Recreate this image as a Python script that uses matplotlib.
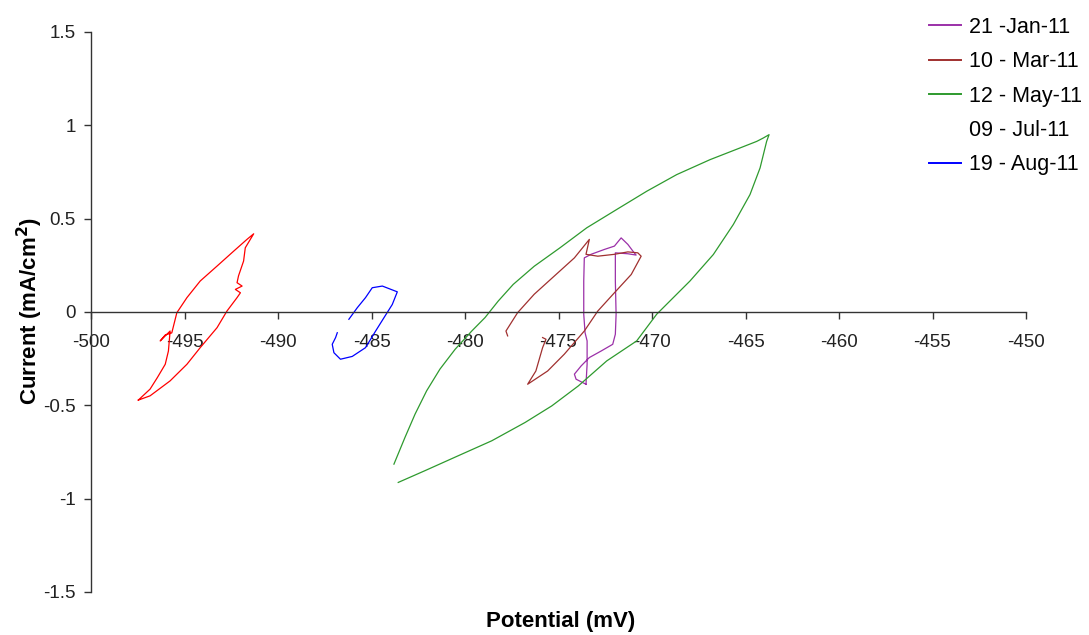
import matplotlib
matplotlib.use("Agg")
import matplotlib.pyplot as plt

plt.rcParams['font.family'] = ['Liberation Sans', 'DejaVu Sans']
plt.rcParams['axes.unicode_minus'] = False

# ---- data (potential mV, current mA/cm2) ----
jan_x = [-473.53, -473.47, -473.47, -473.58, -473.65, -473.65, -473.62, -473.26, -472.55, -472.01,
         -471.65, -471.29, -471.02, -470.85, -471.29, -471.96, -471.96, -471.92, -471.96, -472.10,
         -472.72, -473.35, -473.79, -474.15, -474.06, -473.53]
jan_y = [-0.387, -0.280, -0.155, -0.111, -0.012, 0.166, 0.290, 0.309, 0.335, 0.353,
         0.397, 0.362, 0.326, 0.305, 0.312, 0.317, 0.166, -0.012, -0.119, -0.173,
         -0.209, -0.244, -0.289, -0.333, -0.360, -0.387]

mar_x = [-477.72, -477.81, -477.19, -476.30, -475.22, -474.15, -473.35, -473.53, -472.90, -472.01,
         -471.29, -470.76, -470.58, -471.11, -472.01, -472.90, -473.62, -474.69, -475.58, -476.65,
         -476.21, -475.85, -475.67, -475.85]
mar_y = [-0.128, -0.102, -0.004, 0.095, 0.193, 0.290, 0.389, 0.309, 0.299, 0.309,
         0.322, 0.317, 0.299, 0.201, 0.103, 0.005, -0.102, -0.226, -0.316, -0.387,
         -0.316, -0.191, -0.146, -0.137]

may_x = [-483.80, -483.21, -482.67, -482.05, -481.34, -480.53, -479.64, -478.93, -478.22, -477.42,
         -476.30, -474.92, -473.49, -471.89, -470.28, -468.68, -466.90, -465.29, -464.40, -464.05,
         -463.74, -463.87, -464.22, -464.76, -465.65, -466.72, -467.97, -469.04, -469.75, -470.82,
         -472.42, -473.94, -475.36, -476.79, -478.57, -480.36, -482.14, -483.57]
may_y = [-0.815, -0.672, -0.547, -0.422, -0.306, -0.200, -0.102, -0.030, 0.059, 0.148,
         0.245, 0.344, 0.451, 0.549, 0.647, 0.736, 0.816, 0.879, 0.914, 0.932,
         0.950, 0.914, 0.772, 0.629, 0.469, 0.308, 0.166, 0.059, -0.012, -0.155,
         -0.262, -0.396, -0.503, -0.592, -0.690, -0.770, -0.850, -0.913]

jul_x = [-497.47, -496.84, -496.45, -496.03, -495.86, -495.77, -496.30, -496.03, -495.68, -495.41,
         -494.87, -494.16, -493.26, -492.37, -491.66, -491.30, -491.75, -491.84, -492.11, -492.19,
         -491.92, -492.28, -492.01, -492.19, -492.73, -493.26, -494.16, -494.87, -495.77, -496.84,
         -497.47]
jul_y = [-0.472, -0.413, -0.351, -0.280, -0.209, -0.102, -0.155, -0.123, -0.112, -0.004,
         0.077, 0.166, 0.246, 0.326, 0.389, 0.419, 0.344, 0.273, 0.194, 0.157,
         0.139, 0.121, 0.103, 0.077, 0.005, -0.084, -0.191, -0.280, -0.369, -0.449,
         -0.472]

aug_x = [-486.21, -485.76, -485.32, -484.96, -484.42, -483.62, -483.89, -484.33, -484.78, -485.32,
         -486.03, -486.66, -487.01, -487.10, -486.92, -486.83]
aug_y = [-0.039, 0.023, 0.077, 0.130, 0.139, 0.108, 0.040, -0.030, -0.102, -0.191,
         -0.238, -0.253, -0.218, -0.173, -0.137, -0.111]

labels = ["21 -Jan-11", "10 - Mar-11", "12 - May-11", "09 - Jul-11", "19 - Aug-11"]
colors = ["#9B30A8", "#A0302F", "#2E9A2E", "#FF0000", "#0000FF"]

x_ticks = [-500, -495, -490, -485, -480, -475, -470, -465, -460, -455, -450]
y_ticks = [-1.5, -1, -0.5, 0, 0.5, 1, 1.5]
y_tick_labels = ["-1.5", "-1", "-0.5", "0", "0.5", "1", "1.5"]

# ---- figure ----
fig = plt.figure(figsize=(10.89, 6.35), dpi=100)
ax = fig.add_axes([91 / 1089, 1 - 592 / 635, (1026 - 91) / 1089, (592 - 32) / 635])

series = [(jan_x, jan_y), (mar_x, mar_y), (may_x, may_y), (jul_x, jul_y), (aug_x, aug_y)]
lines = []
for (xs, ys), lab, col in zip(series, labels, colors):
    ln, = ax.plot(xs, ys, color=col, lw=0.9, label=lab)
    lines.append(ln)

ax.set_xlim(-500, -450)
ax.set_ylim(-1.5, 1.5)
ax.set_xticks(x_ticks)
ax.set_xticklabels([str(t) for t in x_ticks])
ax.set_yticks(y_ticks)
ax.set_yticklabels(y_tick_labels)

ax.spines['top'].set_visible(False)
ax.spines['right'].set_visible(False)
ax.spines['bottom'].set_position(('data', 0))
for sp in ['left', 'bottom']:
    ax.spines[sp].set_color('#333333')
    ax.spines[sp].set_linewidth(1.0)

ax.tick_params(axis='x', direction='out', length=5, width=1, pad=10.5,
               labelsize=13.5, colors='#333333', labelcolor='#222222')
ax.tick_params(axis='y', direction='out', length=5, width=1, pad=6,
               labelsize=13.5, colors='#333333', labelcolor='#222222')

fig.text(561 / 1089, 1 - 621 / 635, "Potential (mV)", ha='center', va='center',
         fontsize=16, fontweight='bold')
fig.text(30 / 1089, 1 - 311 / 635, "Current (mA/cm$^\\mathbf{2}$)", ha='center', va='center',
         rotation=90, fontsize=16, fontweight='bold')

leg = fig.legend(handles=lines, labels=labels, loc='upper left',
                 bbox_to_anchor=(929 / 1089, 1 - 17 / 635), frameon=False,
                 fontsize=15.5, handlelength=1.5, handletextpad=0.37,
                 labelspacing=0.62, borderpad=0, borderaxespad=0)
for h in leg.legend_handles:
    h.set_linewidth(1.4)
leg.legend_handles[3].set_visible(False)

fig.savefig("out.png", dpi=100)
